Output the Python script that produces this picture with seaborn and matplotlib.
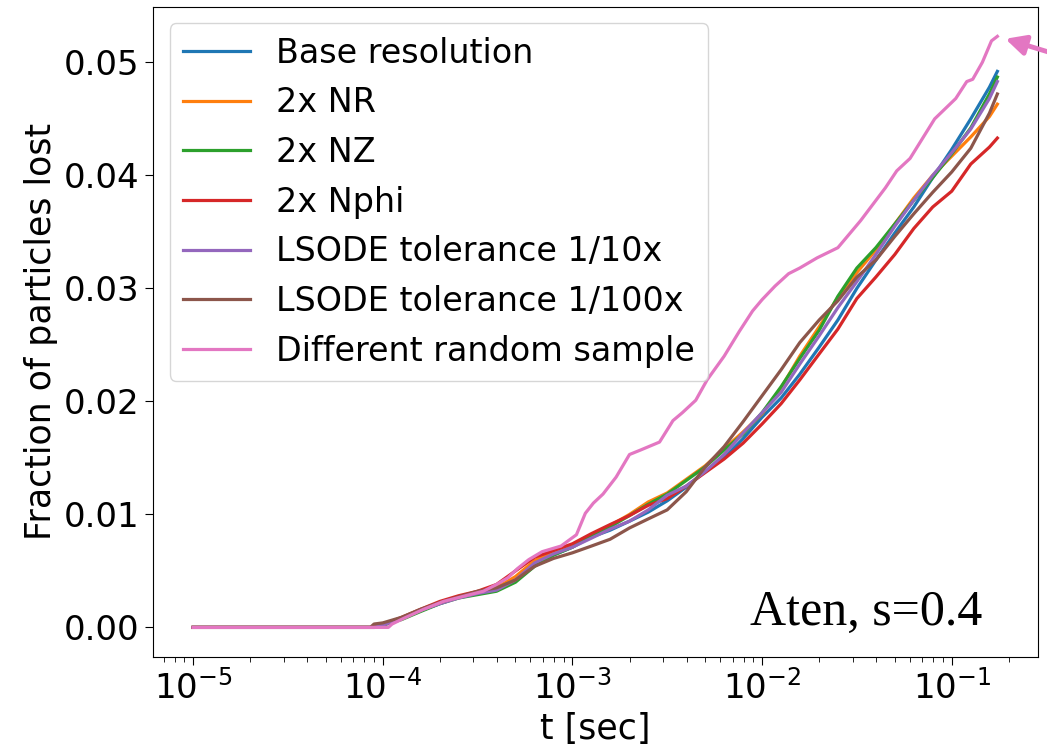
import numpy as np
import pandas as pd
import matplotlib
matplotlib.use("Agg")
import matplotlib.pyplot as plt
import seaborn as sns

# time grid shared by the six resolution / tolerance runs [sec]
t_grid = [1.0e-5, 8.6e-5, 9.0e-5, 1.0e-4, 1.26e-4, 1.58e-4, 2.0e-4, 2.51e-4, 3.16e-4, 3.98e-4,
          5.01e-4, 6.31e-4, 7.94e-4, 1.0e-3, 1.26e-3, 1.58e-3, 2.0e-3, 2.51e-3, 3.16e-3,
          3.98e-3, 5.01e-3, 6.31e-3, 7.94e-3, 1.0e-2, 1.26e-2, 1.58e-2, 2.0e-2, 2.51e-2,
          3.16e-2, 3.98e-2, 5.01e-2, 6.31e-2, 7.94e-2, 0.1, 0.126, 0.158, 0.174]

base = [0, 0, 0, 0.0002, 0.0008, 0.0015, 0.0021, 0.0027, 0.0030, 0.0034, 0.0042, 0.0056, 0.0064,
        0.0071, 0.0080, 0.0086, 0.0094, 0.0102, 0.0112, 0.0124, 0.0138, 0.0150, 0.0167, 0.0186,
        0.0203, 0.0224, 0.0248, 0.0272, 0.0300, 0.0325, 0.0349, 0.0372, 0.0398, 0.0423, 0.0450,
        0.0478, 0.0492]
nr2 = [0, 0, 0, 0.0002, 0.0008, 0.0015, 0.0022, 0.0027, 0.0031, 0.0035, 0.0045, 0.0059, 0.0067,
       0.0073, 0.0082, 0.0090, 0.0100, 0.0111, 0.0119, 0.0131, 0.0143, 0.0158, 0.0173, 0.0189,
       0.0212, 0.0240, 0.0266, 0.0292, 0.0314, 0.0334, 0.0357, 0.0380, 0.0400, 0.0417, 0.0434,
       0.0452, 0.0463]
nz2 = [0, 0, 0, 0.0002, 0.0007, 0.0014, 0.0021, 0.0026, 0.0029, 0.0032, 0.0040, 0.0054, 0.0064,
       0.0071, 0.0081, 0.0089, 0.0099, 0.0109, 0.0118, 0.0130, 0.0142, 0.0157, 0.0171, 0.0190,
       0.0213, 0.0238, 0.0263, 0.0293, 0.0318, 0.0336, 0.0357, 0.0378, 0.0398, 0.0419, 0.0442,
       0.0472, 0.0487]
nphi2 = [0, 0, 0, 0.0002, 0.0009, 0.0016, 0.0023, 0.0028, 0.0032, 0.0038, 0.0050, 0.0062, 0.0068,
         0.0074, 0.0083, 0.0091, 0.0099, 0.0108, 0.0114, 0.0125, 0.0137, 0.0149, 0.0163, 0.0180,
         0.0198, 0.0219, 0.0242, 0.0264, 0.0291, 0.0310, 0.0330, 0.0353, 0.0372, 0.0386, 0.0410,
         0.0425, 0.0433]
tol10 = [0, 0, 0, 0.0002, 0.0008, 0.0015, 0.0021, 0.0026, 0.0030, 0.0033, 0.0042, 0.0057, 0.0065,
         0.0071, 0.0079, 0.0087, 0.0094, 0.0104, 0.0117, 0.0125, 0.0138, 0.0153, 0.0172, 0.0190,
         0.0208, 0.0233, 0.0258, 0.0283, 0.0306, 0.0330, 0.0355, 0.0378, 0.0400, 0.0420, 0.0441,
         0.0468, 0.0483]
tol100 = [0, 0, 0.0003, 0.0004, 0.0009, 0.0016, 0.0022, 0.0027, 0.0032, 0.0035, 0.0042, 0.0054,
          0.0061, 0.0066, 0.0072, 0.0078, 0.0088, 0.0096, 0.0104, 0.0120, 0.0142, 0.0160, 0.0182,
          0.0205, 0.0228, 0.0252, 0.0272, 0.0289, 0.0310, 0.0325, 0.0346, 0.0366, 0.0385, 0.0403,
          0.0424, 0.0455, 0.0472]

# different random sample has its own time points
t_sample = [1.0e-5, 1.07e-4, 1.12e-4, 1.29e-4, 1.64e-4, 2.09e-4, 2.88e-4, 3.39e-4, 3.98e-4, 4.57e-4,
            5.13e-4, 5.89e-4, 6.92e-4, 8.71e-4, 1.05e-3, 1.17e-3, 1.29e-3, 1.45e-3, 1.70e-3, 2.0e-3,
            2.29e-3, 2.88e-3, 3.39e-3, 3.80e-3, 4.47e-3, 5.13e-3, 6.31e-3, 7.59e-3, 8.91e-3, 1.0e-2,
            1.17e-2, 1.38e-2, 1.58e-2, 1.95e-2, 2.51e-2, 3.31e-2, 4.47e-2, 5.13e-2, 6.03e-2, 8.13e-2,
            0.105, 0.120, 0.129, 0.145, 0.162, 0.174]
sample = [0, 0, 0.0003, 0.0008, 0.0016, 0.0023, 0.0029, 0.0032, 0.0038, 0.0044, 0.0052, 0.0060,
          0.0067, 0.0072, 0.0082, 0.0101, 0.0110, 0.0118, 0.0133, 0.0153, 0.0157, 0.0164, 0.0183,
          0.0190, 0.0201, 0.0219, 0.0240, 0.0262, 0.0280, 0.0290, 0.0302, 0.0313, 0.0318, 0.0327,
          0.0336, 0.0360, 0.0389, 0.0404, 0.0415, 0.0450, 0.0468, 0.0483, 0.0485, 0.0500, 0.0519,
          0.0523]

runs = ["Base resolution", "2x NR", "2x NZ", "2x Nphi",
        "LSODE tolerance 1/10x", "LSODE tolerance 1/100x", "Different random sample"]

frames = []
for name, vals in zip(runs[:6], [base, nr2, nz2, nphi2, tol10, tol100]):
    frames.append(pd.DataFrame({"t": t_grid, "frac": vals, "run": name}))
frames.append(pd.DataFrame({"t": t_sample, "frac": sample, "run": runs[6]}))
df = pd.concat(frames, ignore_index=True)

palette = sns.color_palette("tab10", 7)

fig, ax = plt.subplots(figsize=(10.47, 7.56), dpi=100)
fig.subplots_adjust(left=0.146, right=0.991, bottom=0.131, top=0.991)

sns.lineplot(data=df, x="t", y="frac", hue="run", hue_order=runs, palette=palette,
             linewidth=2.3, sort=False, ax=ax)
ax.set_xscale("log")

ax.set_xlabel("t [sec]", fontsize=25)
ax.set_ylabel("Fraction of particles lost", fontsize=25)
ax.tick_params(axis="both", which="major", labelsize=24.5, length=6)
ax.tick_params(axis="both", which="minor", length=3.5)

sns.move_legend(ax, "upper left", title=None, fontsize=24)

ax.text(0.938, 0.05, "Aten, s=0.4", transform=ax.transAxes, ha="right", va="baseline",
        fontsize=36, family="Liberation Serif")

# arrow pointing at the end of the random-sample curve
ax.annotate("", xy=(t_sample[-1], sample[-1]), xytext=(62, -19), textcoords="offset points",
            arrowprops=dict(arrowstyle="-|>", color=palette[6], lw=3.5, mutation_scale=30,
                            shrinkA=0, shrinkB=6),
            annotation_clip=False)

fig.savefig("out.png", dpi=100)
